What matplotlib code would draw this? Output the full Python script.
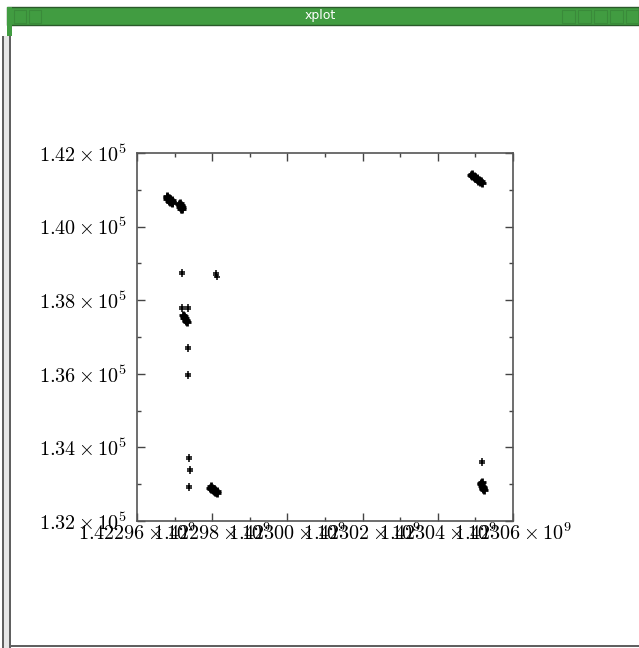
import numpy as np
import matplotlib
matplotlib.use("Agg")
import matplotlib.pyplot as plt
from matplotlib.patches import Rectangle
from matplotlib.ticker import MultipleLocator, FixedLocator, FixedFormatter

plt.rcParams['mathtext.fontset'] = 'cm'

# dense clusters of samples (unix seconds, value)
clu_t = [1422968000, 1422968300, 1422968600, 1422968900, 1422969200, 1422969400,
         1422968100, 1422968500, 1422968900, 1422969300,
         1422968050, 1422968450, 1422968850, 1422969250,
         1422971300, 1422971500, 1422971700, 1422971900, 1422972050,
         1422971400, 1422971800, 1422971350, 1422971750,
         1422972267, 1422972500, 1422972800, 1422973000, 1422973333, 1422972400, 1422972900,
         1422979467, 1422979800, 1422980100, 1422980400, 1422980700, 1422981000, 1422981333,
         1422979600, 1422980000, 1422980400, 1422980800, 1422981200,
         1423048800, 1423049200, 1423049600, 1423050000, 1423050400, 1423050800, 1423051200, 1423051733,
         1423049000, 1423049500, 1423050000, 1423050500, 1423051000, 1423051500,
         1423051467, 1423051600, 1423051750, 1423051900, 1423052050, 1423052267, 1423051700, 1423052000]
clu_v = [140800, 140770, 140740, 140710, 140680, 140660,
         140830, 140790, 140750, 140710,
         140740, 140700, 140670, 140630,
         140610, 140580, 140550, 140520, 140490,
         140640, 140580, 140540, 140490,
         137600, 137560, 137510, 137460, 137410, 137520, 137440,
         132898, 132870, 132850, 132820, 132800, 132780, 132762,
         132940, 132910, 132880, 132850, 132820,
         141402, 141370, 141340, 141310, 141280, 141250, 141220, 141185,
         141420, 141380, 141350, 141310, 141270, 141240,
         133033, 133000, 132960, 132920, 132880, 132844, 133050, 132900]

# isolated samples
pt_t = [1422972000, 1422972000,
        1422981067, 1422981067, 1422981200,
        1422972000, 1422972000, 1422973600, 1422973600,
        1422973600, 1422973600,
        1422973600, 1422973600,
        1422973867, 1422973867,
        1422974133, 1422974133,
        1422973867, 1422973867,
        1423051733, 1423051733]
pt_v = [138760, 138700,
        138740, 138680, 138620,
        137810, 137750, 137810, 137750,
        136730, 136670,
        135990, 135930,
        133740, 133680,
        133410, 133350,
        132950, 132890,
        133630, 133570]

x_ticks = [1.42296e9, 1.42298e9, 1.42300e9, 1.42302e9, 1.42304e9, 1.42306e9]
x_labels = [r'$1.42296\times10^{9}$', r'$1.42298\times10^{9}$', r'$1.42300\times10^{9}$',
            r'$1.42302\times10^{9}$', r'$1.42304\times10^{9}$', r'$1.42306\times10^{9}$']
y_ticks = [1.32e5, 1.34e5, 1.36e5, 1.38e5, 1.40e5, 1.42e5]
y_labels = [r'$1.32\times10^{5}$', r'$1.34\times10^{5}$', r'$1.36\times10^{5}$',
            r'$1.38\times10^{5}$', r'$1.40\times10^{5}$', r'$1.42\times10^{5}$']

W, H = 639, 648
fig = plt.figure(figsize=(W/100, H/100), dpi=100)
fig.patch.set_facecolor('white')

# window frame (pixel coords -> figure fraction)
def px(x, y, w, h, **kw):
    fig.patches.append(Rectangle((x/W, 1-(y+h)/H), w/W, h/H, transform=fig.transFigure, **kw))

px(7, 7, W-7, 18, facecolor='#419c41', edgecolor='#2a5a2a', linewidth=1)
px(7, 7, 5, 29, facecolor='#419c41', edgecolor='none')
px(2, 36, 8, H-36, facecolor='#e6e6e6', edgecolor='none')
px(2, 36, 1.5, H-36, facecolor='#606060', edgecolor='none')
px(9, 36, 1.5, H-36, facecolor='#606060', edgecolor='none')
px(10, 645, W-10, 2, facecolor='#606060', edgecolor='none')
for bx in [14, 29]:
    px(bx, 10, 12, 13, facecolor='none', edgecolor='#3a8a3a', linewidth=0.8)
for bx in [562, 578, 594, 610, 626]:
    px(bx, 10, 13, 13, facecolor='none', edgecolor='#3a8a3a', linewidth=0.8)
fig.text(320/W, 1-15/H, 'xplot', color='white', fontsize=9, ha='center', va='center')

ax = fig.add_axes([137/W, 1-521/H, 376/W, 368/H])
ax.plot(clu_t, clu_v, linestyle='none', marker='+', color='black', markersize=6, markeredgewidth=2)
ax.plot(pt_t, pt_v, linestyle='none', marker='+', color='black', markersize=5, markeredgewidth=1.1)

ax.set_xlim(1.42296e9, 1.42306e9)
ax.set_ylim(1.32e5, 1.42e5)
ax.xaxis.set_major_locator(FixedLocator(x_ticks))
ax.xaxis.set_major_formatter(FixedFormatter(x_labels))
ax.xaxis.set_minor_locator(MultipleLocator(1e4))
ax.yaxis.set_major_locator(FixedLocator(y_ticks))
ax.yaxis.set_major_formatter(FixedFormatter(y_labels))
ax.yaxis.set_minor_locator(MultipleLocator(1e3))

ax.tick_params(which='both', direction='in', top=True, right=True, color='#444444', width=1)
ax.tick_params(which='major', length=6, labelsize=14.5)
ax.tick_params(which='minor', length=3)
ax.tick_params(axis='x', pad=1)
ax.tick_params(axis='y', pad=7)
for s in ax.spines.values():
    s.set_color('#555555')
    s.set_linewidth(1.2)

fig.savefig('out.png', dpi=100)
